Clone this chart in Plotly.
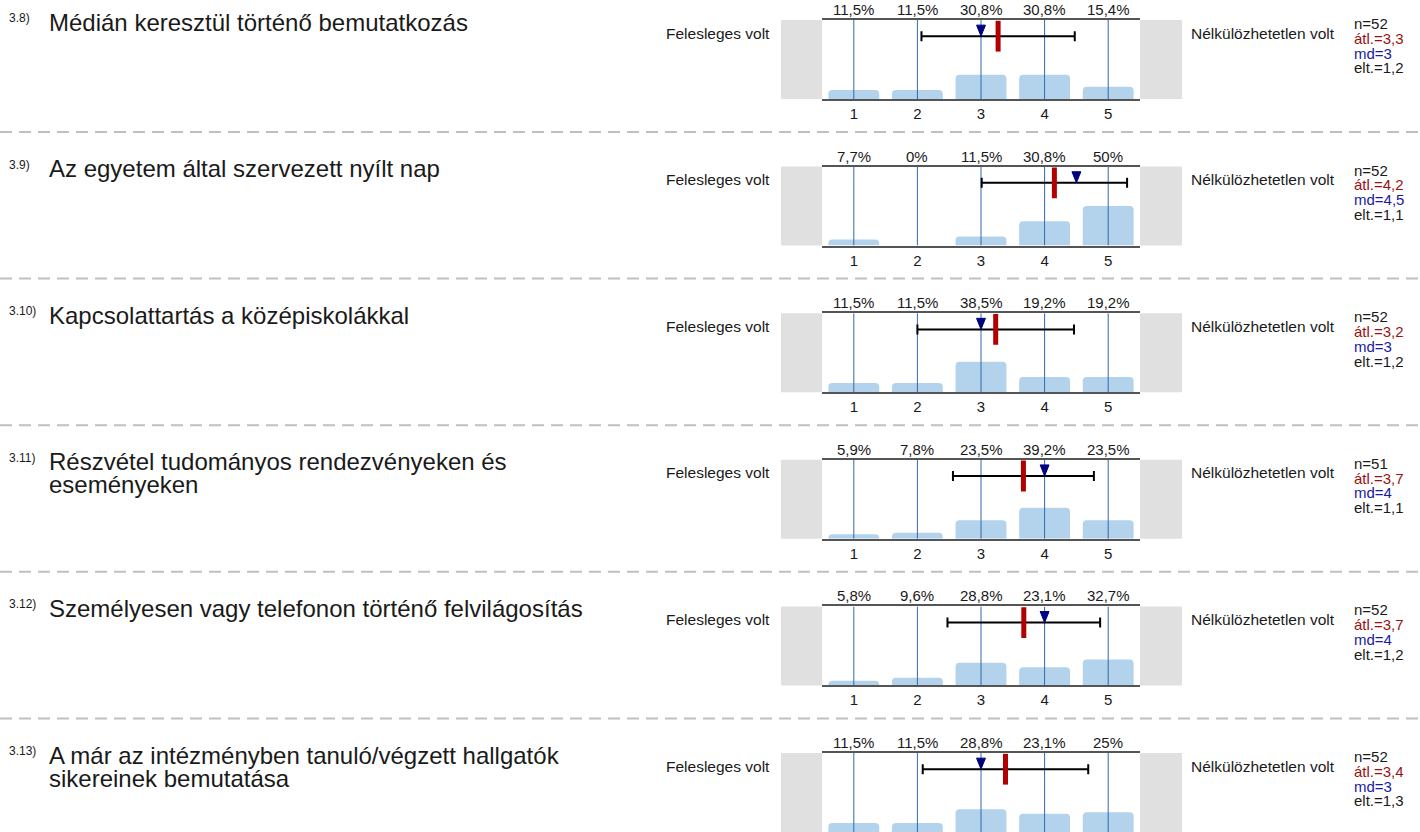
import plotly.graph_objects as go

# ---------------- data ----------------
item_nums = ["3.8)", "3.9)", "3.10)", "3.11)", "3.12)", "3.13)"]
item_titles = [
    "Médián keresztül történő bemutatkozás",
    "Az egyetem által szervezett nyílt nap",
    "Kapcsolattartás a középiskolákkal",
    "Részvétel tudományos rendezvényeken és<br>eseményeken",
    "Személyesen vagy telefonon történő felvilágosítás",
    "A már az intézményben tanuló/végzett hallgatók<br>sikereinek bemutatása",
]
categories = [1, 2, 3, 4, 5]
tick_labels = ["1", "2", "3", "4", "5"]
pct_3_8 = [11.5, 11.5, 30.8, 30.8, 15.4]
pct_3_9 = [7.7, 0, 11.5, 30.8, 50]
pct_3_10 = [11.5, 11.5, 38.5, 19.2, 19.2]
pct_3_11 = [5.9, 7.8, 23.5, 39.2, 23.5]
pct_3_12 = [5.8, 9.6, 28.8, 23.1, 32.7]
pct_3_13 = [11.5, 11.5, 28.8, 23.1, 25]
pct_values = [pct_3_8, pct_3_9, pct_3_10, pct_3_11, pct_3_12, pct_3_13]
n_vals = [52, 52, 52, 51, 52, 52]
mean_vals = [3.269, 4.154, 3.231, 3.667, 3.673, 3.385]
median_vals = [3, 4.5, 3, 4, 4, 3]
sd_vals = [1.205, 1.143, 1.231, 1.108, 1.200, 1.301]
left_label = "Felesleges volt"
right_label = "Nélkülözhetetlen volt"

# ---------------- style / layout ----------------
W, H = 1420, 832
FONT = "Liberation Sans, Arial, sans-serif"
TXT = "#1a1a1a"
BAR_COL = "#b3d3ec"
GRID_COL = "#3268aa"
AXIS_COL = "#555555"
GRAY = "#e0e0e0"
MEAN_COL = "#b00000"
MEAN_TXT = "#9b1111"
MED_COL = "#000080"
MED_TXT = "#1a1aa0"

TOP0, STEP, PH = 20, 146.6, 79
X0, X1 = 822, 1140
EB_Y = 79.5          # error bar level (panel scale 0-100)
TRI_TOP = 93.5
TRI_HALF = 0.07


def px(v):
    return v / W


def py(v):
    return max(0.0, min(1.0, 1 - v / H))


def fmt(v):
    return f"{v:g}".replace(".", ",")


fig = go.Figure()
shapes = []
annotations = []
layout_axes = {}

for k in range(6):
    ax = "" if k == 0 else str(k + 1)
    xa, ya = "x" + ax, "y" + ax
    top = TOP0 + STEP * k
    bot = top + PH
    pct = pct_values[k]

    fig.add_trace(go.Bar(
        x=categories, y=pct, width=0.8, xaxis=xa, yaxis=ya,
        marker=dict(color=BAR_COL, line=dict(width=0), cornerradius=4),
        hoverinfo="skip", showlegend=False))

    # vertical category lines (above bars, below the summary marks)
    gx, gy = [], []
    for c in categories:
        gx += [c, c, None]
        gy += [0, 100, None]
    fig.add_trace(go.Scatter(
        x=gx, y=gy, xaxis=xa, yaxis=ya, mode="lines",
        line=dict(color=GRID_COL, width=1), hoverinfo="skip",
        showlegend=False, cliponaxis=False))

    # error bar (mean +- sd)
    fig.add_trace(go.Scatter(
        x=[mean_vals[k]], y=[EB_Y], xaxis=xa, yaxis=ya, mode="markers",
        marker=dict(size=1, color="rgba(0,0,0,0)"),
        error_x=dict(type="data", array=[sd_vals[k]], symmetric=True,
                     color="black", thickness=2, width=5),
        hoverinfo="skip", showlegend=False))

    # median triangle
    m = median_vals[k]
    fig.add_trace(go.Scatter(
        x=[m - TRI_HALF, m + TRI_HALF, m, m - TRI_HALF],
        y=[TRI_TOP, TRI_TOP, EB_Y, TRI_TOP],
        xaxis=xa, yaxis=ya, mode="lines", fill="toself",
        fillcolor=MED_COL, line=dict(color=MED_COL, width=1),
        hoverinfo="skip", showlegend=False))

    # mean marker
    fig.add_trace(go.Scatter(
        x=[mean_vals[k]], y=[EB_Y], xaxis=xa, yaxis=ya, mode="markers",
        marker=dict(symbol="line-ns", size=22,
                    line=dict(color=MEAN_COL, width=5)),
        hoverinfo="skip", showlegend=False))

    layout_axes["xaxis" + ax] = dict(
        domain=[px(X0), px(X1)], range=[0.5, 5.5], anchor=ya,
        tickvals=categories, ticktext=tick_labels, ticks="",
        showticklabels=(k < 5),
        tickfont=dict(size=15, color=TXT, family=FONT),
        showgrid=False, zeroline=False, showline=True, mirror=True,
        linecolor=AXIS_COL, linewidth=2, fixedrange=True)
    layout_axes["yaxis" + ax] = dict(
        domain=[py(bot), py(top)], range=[0, 100], anchor=xa,
        visible=False, fixedrange=True)

    # gray side boxes
    for (a, b) in [(781, X0), (X1, 1182)]:
        shapes.append(dict(type="rect", xref="paper", yref=ya + " domain",
                           x0=px(a), x1=px(b), y0=0, y1=1,
                           fillcolor=GRAY, line=dict(width=0), layer="below"))

    # percent labels
    for c, v in zip(categories, pct):
        annotations.append(dict(
            x=c, xref=xa, y=1, yref=ya + " domain", yanchor="bottom",
            text=fmt(v) + "%", showarrow=False, yshift=0,
            font=dict(size=15, color=TXT, family=FONT)))

    annotations.append(dict(
        x=px(772), xref="paper", xanchor="right", y=py(top + 13), yref="paper",
        yanchor="middle", text=left_label, showarrow=False,
        font=dict(size=15.5, color=TXT, family=FONT)))
    annotations.append(dict(
        x=px(1189), xref="paper", xanchor="left", y=py(top + 13), yref="paper",
        yanchor="middle", text=right_label, showarrow=False,
        font=dict(size=15.5, color=TXT, family=FONT)))

    stats = [("n=" + str(n_vals[k]), TXT),
             ("átl.=" + f"{mean_vals[k]:.1f}".replace(".", ","), MEAN_TXT),
             ("md=" + fmt(median_vals[k]), MED_TXT),
             ("elt.=" + f"{sd_vals[k]:.1f}".replace(".", ","), TXT)]
    for i, (t, col) in enumerate(stats):
        annotations.append(dict(
            x=px(1353), xref="paper", xanchor="left",
            y=py(top + 3.5 + 14.8 * i), yref="paper", yanchor="middle",
            text=t, showarrow=False, borderpad=0,
            font=dict(size=15, color=col, family=FONT)))

    # item number and title lines
    annotations.append(dict(
        x=px(7), xref="paper", xanchor="left", y=py(top - 2), yref="paper",
        yanchor="middle", text=item_nums[k], showarrow=False,
        font=dict(size=12, color=TXT, family=FONT)))
    for j, line in enumerate(item_titles[k].split("<br>")):
        annotations.append(dict(
            x=px(47), xref="paper", xanchor="left", y=py(top + 2 + 23 * j),
            yref="paper", yanchor="middle", text=line, showarrow=False,
            font=dict(size=24, color=TXT, family=FONT)))

    # separator
    if k < 5:
        shapes.append(dict(type="line", xref="paper", yref="paper",
                           x0=0, x1=1, y0=py(top + 112), y1=py(top + 112),
                           line=dict(color="#c0c0c0", width=2, dash="12px,7px")))

fig.update_layout(
    width=W, height=H, margin=dict(l=0, r=0, t=0, b=0),
    paper_bgcolor="white", plot_bgcolor="white",
    font=dict(family=FONT, color=TXT),
    shapes=shapes, annotations=annotations, showlegend=False,
    bargap=0.2, **layout_axes)

fig.write_html(
    "out.html", config={"displayModeBar": False},
    post_script="document.body.style.margin='0';document.body.style.overflow='hidden';")
